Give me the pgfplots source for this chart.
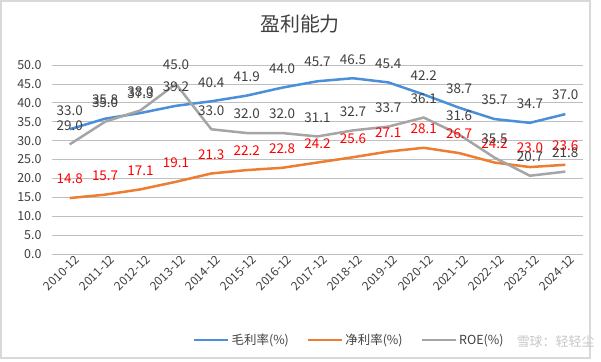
\documentclass[border=0pt]{standalone}
\usepackage{pgfplots}
\pgfplotsset{compat=1.18}
\usepackage{fontspec}
\setmainfont{Noto Sans CJK SC}
\definecolor{cblue}{HTML}{4A8FD8}
\definecolor{corange}{HTML}{ED7D31}
\definecolor{cgray}{HTML}{A5A5A5}
\definecolor{txt}{HTML}{404040}
\definecolor{grid}{HTML}{D9D9D9}
\begin{document}
\begin{tikzpicture}
\useasboundingbox (0bp,0bp) rectangle (601bp,362bp);
\fill[white] (0bp,0bp) rectangle (601bp,362bp);
\draw[grid, line width=1.5bp] (1bp,4bp) rectangle (590bp,361bp);
\node[text=txt, font=\fontsize{20}{24}\selectfont] at (300bp,338bp) {盈利能力};
\begin{axis}[
  at={(52bp,108bp)}, anchor=south west,
  scale only axis, width=531bp, height=189bp,
  xmin=-0.5, xmax=14.5, ymin=0, ymax=50,
  axis line style={draw=none},
  major tick length=0pt,
  xmajorgrids=false,
  ytick={0,5,...,50},
  ymajorgrids=true, grid style={grid, line width=0.8bp},
  yticklabel style={/pgf/number format/fixed, /pgf/number format/fixed zerofill, /pgf/number format/precision=1, /pgf/number format/assume math mode=true, text=txt, font=\fontsize{12.5}{14}\selectfont, xshift=-7bp},
  xtick=data,
  xticklabels={2010-12,2011-12,2012-12,2013-12,2014-12,2015-12,2016-12,2017-12,2018-12,2019-12,2020-12,2021-12,2022-12,2023-12,2024-12},
  xticklabel style={rotate=45, anchor=north east, text=txt, font=\fontsize{12}{13}\selectfont, inner sep=1pt, xshift=4bp, yshift=-2bp},
  legend columns=3,
  legend style={at={(0.56,-0.455)}, anchor=center, draw=none, fill=none,
    font=\fontsize{12.5}{14}\selectfont, text=txt,
    /tikz/every even column/.append style={column sep=16bp}},
  legend image code/.code={\draw[#1, line width=2.5bp] (0bp,0bp) -- (34bp,0bp);},
  nodes near coords,
  point meta=explicit symbolic,
  every node near coord/.append style={anchor=center, yshift=19bp, font=\fontsize{13.5}{15}\selectfont},
  clip=false,
]
\addplot[cblue, line width=2.5bp, mark=none, every node near coord/.append style={text=txt}] table[meta=l] {
x y l
0 33.0 33.0
1 35.8 35.8
2 37.3 37.3
3 39.2 39.2
4 40.4 40.4
5 41.9 41.9
6 44.0 44.0
7 45.7 45.7
8 46.5 46.5
9 45.4 45.4
10 42.2 42.2
11 38.7 38.7
12 35.7 35.7
13 34.7 34.7
14 37.0 37.0
};
\addlegendentry{毛利率(\%)}
\addplot[corange, line width=2.5bp, mark=none, every node near coord/.append style={text=red}] table[meta=l] {
x y l
0 14.8 14.8
1 15.7 15.7
2 17.1 17.1
3 19.1 19.1
4 21.3 21.3
5 22.2 22.2
6 22.8 22.8
7 24.2 24.2
8 25.6 25.6
9 27.1 27.1
10 28.1 28.1
11 26.7 26.7
12 24.2 24.2
13 23.0 23.0
14 23.6 23.6
};
\addlegendentry{净利率(\%)}
\addplot[cgray, line width=2.5bp, mark=none, every node near coord/.append style={text=txt}] table[meta=l] {
x y l
0 29.0 29.0
1 35.0 35.0
2 38.0 38.0
3 45.0 45.0
4 33.0 33.0
5 32.0 32.0
6 32.0 32.0
7 31.1 31.1
8 32.7 32.7
9 33.7 33.7
10 36.1 36.1
11 31.6 31.6
12 25.5 35.5
13 20.7 20.7
14 21.8 21.8
};
\addlegendentry{ROE(\%)}
\end{axis}
\node[text=black!22, font=\fontsize{13}{15}\selectfont, anchor=east] at (598bp,20bp) {雪球：轻轻尘};
\end{tikzpicture}
\end{document}
